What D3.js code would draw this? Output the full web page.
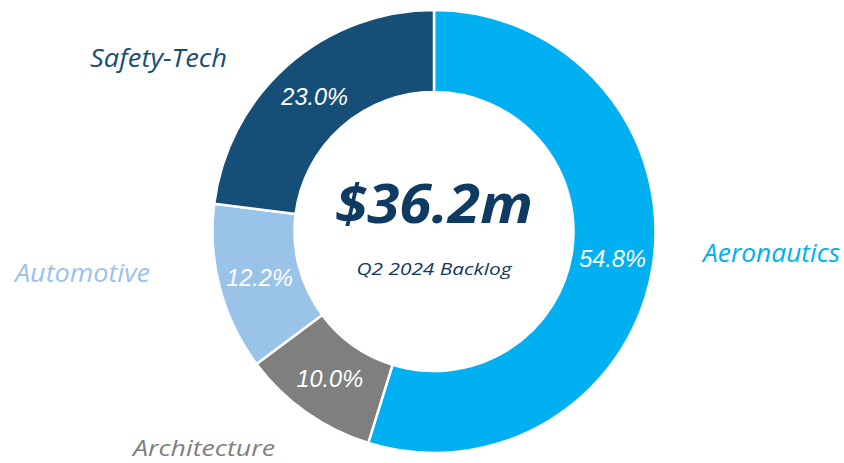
<!DOCTYPE html>
<html><head><meta charset="utf-8">
<script src="https://cdn.jsdelivr.net/npm/d3@7"></script>
<style>html,body{margin:0;padding:0;background:#fff;}svg{display:block;}</style>
</head><body>
<svg id="chart" width="844" height="463"></svg>
<script>
const categories = ["Aeronautics", "Architecture", "Automotive", "Safety-Tech"];
const shares = [54.8, 10.0, 12.2, 23.0];
const pctLabels = ["54.8%", "10.0%", "12.2%", "23.0%"];
const colors = ["#00B0F0", "#7F7F7F", "#9AC3EA", "#154F77"];
const totalLabel = "$36.2m";
const subLabel = "Q2 2024 Backlog";
// outer category label anchor points (x, baseline y, width, font size)
const outerLabelPos = [[703, 262, 137, 25], [133, 456, 142, 22], [15, 282, 135, 25], [90, 67, 137, 25]];

const svg = d3.select("#chart");
const cx = 434, cy = 231.5, rOuter = 221.5, rInner = 139.5;
const g = svg.append("g").attr("transform", `translate(${cx},${cy})`);

const data = categories.map((c, i) => ({cat: c, v: shares[i], lab: pctLabels[i], col: colors[i]}));
const pie = d3.pie().value(d => d.v).sort(null);
const arc = d3.arc().innerRadius(rInner).outerRadius(rOuter);
const arcs = pie(data);

g.selectAll("path").data(arcs).join("path")
  .attr("d", arc)
  .attr("fill", d => d.data.col)
  .attr("stroke", "#fff")
  .attr("stroke-width", 2.5);

g.selectAll("text.pct").data(arcs).join("text")
  .attr("class", "pct")
  .attr("transform", d => `translate(${arc.centroid(d)})`)
  .attr("text-anchor", "middle")
  .attr("dy", "0.36em")
  .attr("fill", "#fff")
  .style("font-family", "'Liberation Sans', Arial, sans-serif")
  .style("font-style", "italic")
  .style("font-size", "23.5px")
  .text(d => d.data.lab);

g.append("text")
  .attr("x", 0).attr("y", 223 - cy)
  .attr("text-anchor", "middle")
  .attr("fill", "#0F3A62")
  .style("font-family", "'Open Sans', sans-serif")
  .style("font-style", "italic")
  .style("font-weight", "700")
  .style("font-size", "54px")
  .attr("textLength", 198)
  .attr("lengthAdjust", "spacingAndGlyphs")
  .text(totalLabel);

g.append("text")
  .attr("x", 0).attr("y", 275 - cy)
  .attr("text-anchor", "middle")
  .attr("fill", "#0F3A62")
  .style("font-family", "'Open Sans', sans-serif")
  .style("font-style", "italic")
  .style("font-size", "17px")
  .attr("textLength", 155)
  .attr("lengthAdjust", "spacingAndGlyphs")
  .text(subLabel);

svg.selectAll("text.cat").data(data).join("text")
  .attr("class", "cat")
  .attr("x", (d, i) => outerLabelPos[i][0])
  .attr("y", (d, i) => outerLabelPos[i][1])
  .attr("textLength", (d, i) => outerLabelPos[i][2])
  .attr("lengthAdjust", "spacingAndGlyphs")
  .attr("fill", d => d.col)
  .style("font-family", "'Open Sans', sans-serif")
  .style("font-style", "italic")
  .style("font-size", (d, i) => outerLabelPos[i][3] + "px")
  .text(d => d.cat);
</script>
</body></html>
